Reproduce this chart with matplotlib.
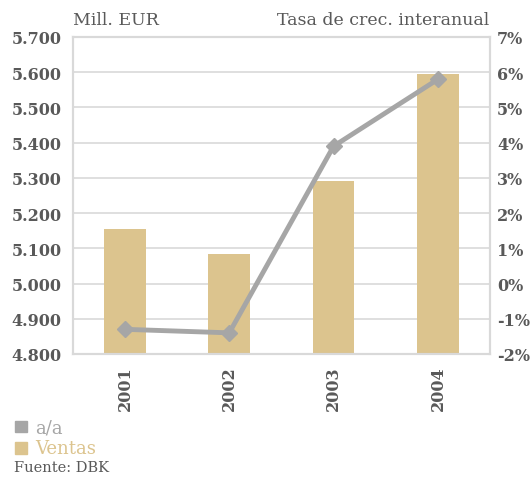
import matplotlib.pyplot as plt
from matplotlib.patches import Rectangle

# Datos
anios = ["2001", "2002", "2003", "2004"]
ventas = [5155, 5084, 5291, 5595]
crec = [-1.3, -1.4, 3.9, 5.8]

ventas_ticks = [4800, 4900, 5000, 5100, 5200, 5300, 5400, 5500, 5600, 5700]
crec_ticks = [-2, -1, 0, 1, 2, 3, 4, 5, 6, 7]

color_barra = "#dcc48e"
color_linea = "#a6a6a6"
color_texto = "#595959"
color_grid = "#d9d9d9"

plt.rcParams["font.family"] = ["DejaVu Serif"]

fig = plt.figure(figsize=(5.31, 4.81), dpi=100)
ax = fig.add_axes([0.137, 0.262, 0.786, 0.659])
ax2 = ax.twinx()

x = range(len(anios))
ax.bar(x, ventas, width=0.4, color=color_barra, zorder=2)
ax.set_ylim(4800, 5700)
ax.set_xlim(-0.5, 3.5)
ax.set_yticks(ventas_ticks)
ax.set_yticklabels([f"{v:,}".replace(",", ".") for v in ventas_ticks])
ax.set_xticks(list(x))
ax.set_xticklabels(anios, rotation=90)
ax.grid(axis="y", color=color_grid, linewidth=1.2, zorder=0)
ax.set_axisbelow(True)

ax2.plot(list(x), crec, color=color_linea, linewidth=3.5, marker="D",
         markersize=8, zorder=3)
ax2.set_ylim(-2, 7)
ax2.set_yticks(crec_ticks)
ax2.set_yticklabels([f"{v}%" for v in crec_ticks])

for a in (ax, ax2):
    for s in a.spines.values():
        s.set_color(color_grid)
        s.set_linewidth(1.5)
    a.tick_params(length=0, colors=color_texto, labelsize=11.5)
    for lab in a.get_xticklabels() + a.get_yticklabels():
        lab.set_fontweight("bold")
ax.tick_params(axis="y", pad=8)
ax2.tick_params(axis="y", pad=5)
ax.tick_params(axis="x", pad=8)

fig.text(0.137, 0.958, "Mill. EUR", color=color_texto, fontsize=12.5, va="center")
fig.text(0.922, 0.958, "Tasa de crec. interanual", color=color_texto,
         fontsize=12.5, va="center", ha="right")

# Leyenda
fig.patches.append(Rectangle((0.028, 0.099), 0.022, 0.024, color=color_linea,
                             transform=fig.transFigure))
fig.text(0.066, 0.11, "a/a", color=color_linea, fontsize=13, va="center")
fig.patches.append(Rectangle((0.028, 0.055), 0.022, 0.024, color=color_barra,
                             transform=fig.transFigure))
fig.text(0.066, 0.066, "Ventas", color=color_barra, fontsize=13, va="center")
fig.text(0.026, 0.028, "Fuente: DBK", color=color_texto, fontsize=10.5,
         va="center")

fig.savefig("out.png", dpi=100)
